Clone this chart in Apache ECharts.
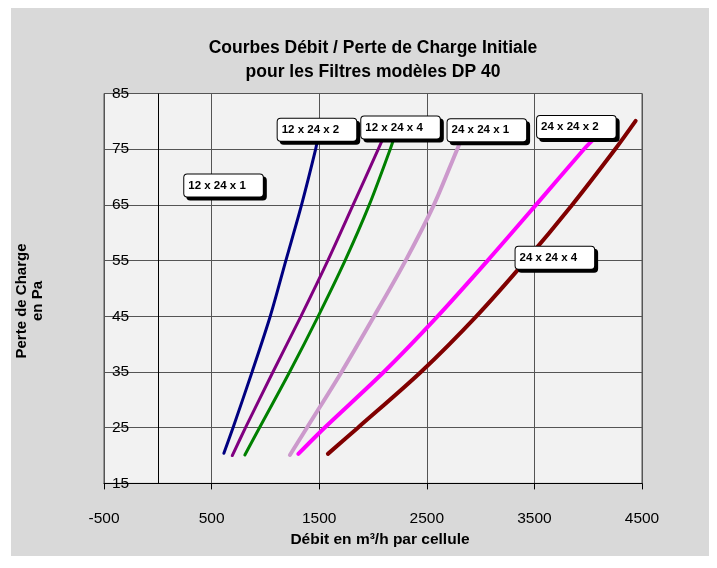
<!DOCTYPE html>
<html>
<head>
<meta charset="utf-8">
<script src="https://cdn.jsdelivr.net/npm/echarts@6/dist/echarts.min.js"></script>
<style>
  html, body { margin: 0; padding: 0; background: #ffffff; }
  #bg { position: absolute; left: 11px; top: 8px; width: 698px; height: 548px; background: #d9d9d9; }
  #chart { position: absolute; left: 0; top: 0; width: 717px; height: 568px; }
</style>
</head>
<body>
<div id="bg"></div>
<div id="chart"></div>
<script>
// ---- data ----
const curveNames = ['12 x 24 x 1', '12 x 24 x 2', '12 x 24 x 4', '24 x 24 x 1', '24 x 24 x 2', '24 x 24 x 4'];
const curveColors = ['#000080', '#800080', '#008000', '#cc99cc', '#ff00ff', '#800000'];

const navyX    = [614, 699, 876, 1045, 1190, 1336, 1467, 1487];
const navyY    = [20.4, 25, 35, 45, 55, 65, 75, 77.0];
const purpleX  = [692, 815, 1070, 1330, 1580, 1815, 2049, 2099];
const purpleY  = [20.0, 25, 35, 45, 55, 65, 75, 77.2];
const greenX   = [809, 945, 1225, 1490, 1740, 1965, 2160, 2190];
const greenY   = [20.1, 25, 35, 45, 55, 65, 75, 76.7];
const plumX    = [1228, 1386, 1708, 2010, 2303, 2566, 2783, 2840];
const plumY    = [20.1, 25, 35, 45, 55, 65, 75, 77.5];
const magentaX = [1306, 1550, 2100, 2600, 3065, 3515, 3960, 4035];
const magentaY = [20.3, 25, 35, 45, 55, 65, 75, 76.5];
const maroonX  = [1581, 1860, 2445, 2960, 3420, 3850, 4250, 4441];
const maroonY  = [20.3, 25, 35, 45, 55, 65, 75, 80.1];

// text box labels (data coordinates of box centres)
const labelTexts = ['12 x 24 x 1', '12 x 24 x 2', '12 x 24 x 4', '24 x 24 x 1', '24 x 24 x 2', '24 x 24 x 4'];
const labelX = [611, 1479, 2256, 3058, 3890, 3690];
const labelY = [68.5, 78.5, 78.9, 78.4, 79.0, 55.5];

const titleText = 'Courbes Débit / Perte de Charge Initiale\npour les Filtres modèles DP 40';
const xName = 'Débit en m³/h par cellule';
const yName = 'Perte de Charge\nen Pa';

// ---- build ----
const SANS = "'Liberation Sans', Arial, sans-serif";

const xs = [navyX, purpleX, greenX, plumX, magentaX, maroonX];
const ys = [navyY, purpleY, greenY, plumY, magentaY, maroonY];
const widths = [3, 3, 3, 4, 4, 4];

const series = xs.map((xarr, i) => ({
  name: curveNames[i],
  type: 'line',
  data: xarr.map((x, k) => [x, ys[i][k]]),
  showSymbol: false,
  symbol: 'none',
  smooth: 0.3,
  lineStyle: { color: curveColors[i], width: widths[i], cap: 'round' },
  z: 5,
  silent: true
}));

series[0].markLine = {
  silent: true,
  symbol: ['none', 'none'],
  label: { show: false },
  lineStyle: { color: '#000', width: 1, type: 'solid' },
  data: [{ xAxis: 0 }],
  z: 3
};

series.push({
  type: 'scatter',
  data: labelX.map((x, i) => ({ value: [x, labelY[i]], name: labelTexts[i] })),
  symbolSize: 0,
  itemStyle: { color: '#ffffff', opacity: 1 },
  z: 10,
  silent: true,
  label: {
    show: true,
    position: 'inside',
    formatter: p => p.name,
    fontFamily: SANS,
    fontWeight: 'bold',
    fontSize: 11.5,
    color: '#000',
    opacity: 1,
    backgroundColor: '#ffffff',
    borderColor: '#000',
    borderWidth: 1,
    borderRadius: 3,
    padding: [7, 17, 3, 4],
    shadowColor: '#000',
    shadowOffsetX: 3,
    shadowOffsetY: 3,
    shadowBlur: 0
  }
});

const chart = echarts.init(document.getElementById('chart'), null, { renderer: 'canvas' });
chart.setOption({
  backgroundColor: 'transparent',
  animation: false,
  title: {
    text: titleText,
    left: 368,
    top: 31,
    textAlign: 'center',
    textStyle: { fontFamily: SANS, fontWeight: 'bold', fontSize: 17.5, lineHeight: 24, color: '#000' }
  },
  grid: {
    left: 104, right: 75, top: 93.5, bottom: 84.6,
    show: true, backgroundColor: '#f2f2f2', borderColor: '#555', borderWidth: 1,
    containLabel: false
  },
  xAxis: {
    type: 'value',
    min: -500, max: 4500, interval: 1000,
    axisLine: { show: true, onZero: false, lineStyle: { color: '#000', width: 1 } },
    axisTick: { show: true, length: 6, lineStyle: { color: '#000' } },
    axisLabel: { fontFamily: SANS, fontSize: 15.5, color: '#000', margin: 27, showMinLabel: true, showMaxLabel: true,
                 formatter: v => String(v) },
    splitLine: { show: true, lineStyle: { color: '#555', width: 1 } },
    name: xName,
    nameLocation: 'middle',
    nameGap: 47,
    nameTextStyle: { fontFamily: SANS, fontWeight: 'bold', fontSize: 15.5, color: '#000', padding: [0, 0, 0, 14] }
  },
  yAxis: {
    type: 'value',
    min: 15, max: 85, interval: 10,
    axisLine: { show: true, onZero: false, lineStyle: { color: '#555', width: 1 } },
    axisTick: { show: false },
    axisLabel: { inside: true, fontFamily: SANS, fontSize: 15.5, color: '#000', margin: 8, showMinLabel: true, showMaxLabel: true,
                 formatter: v => String(v) },
    splitLine: { show: true, lineStyle: { color: '#555', width: 1 } }
  },
  graphic: [{
    type: 'text',
    x: 30, y: 301,
    rotation: Math.PI / 2,
    style: {
      text: yName,
      fontFamily: SANS,
      fontWeight: 'bold',
      fontSize: 15,
      lineHeight: 16,
      fill: '#000',
      textAlign: 'center',
      textVerticalAlign: 'middle'
    }
  }],
  series: series
});
</script>
</body>
</html>
